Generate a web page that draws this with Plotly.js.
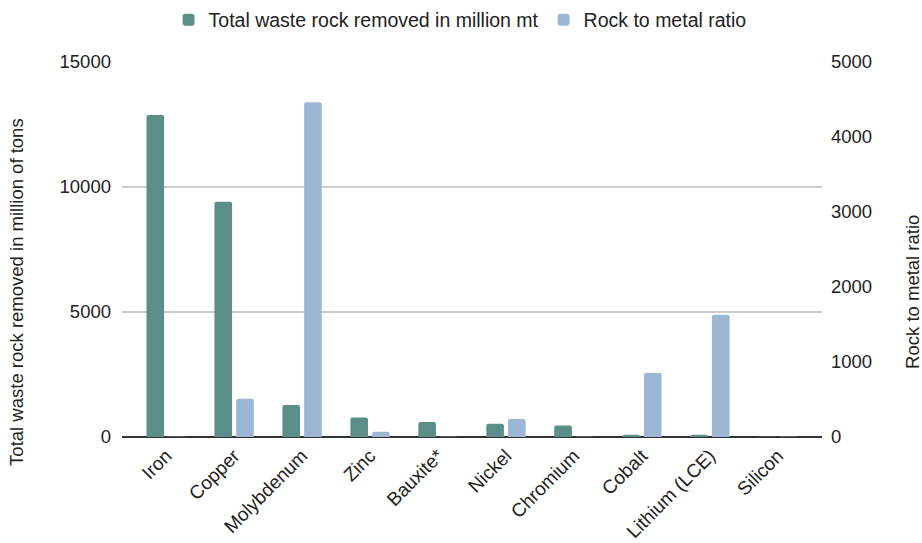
<!DOCTYPE html>
<html>
<head>
<meta charset="utf-8">
<script src="https://cdn.plot.ly/plotly-3.0.1.min.js"></script>
<style>html,body{margin:0;padding:0;background:#fff;}#chart{width:922px;height:543px;}</style>
</head>
<body>
<div id="chart"></div>
<script>
const categories = ["Iron", "Copper", "Molybdenum", "Zinc", "Bauxite*", "Nickel", "Chromium", "Cobalt", "Lithium (LCE)", "Silicon"];
const wasteRock = [12880, 9410, 1280, 785, 600, 530, 465, 90, 90, 15];
const rockToMetal = [4, 510, 4465, 70, 4, 240, 4, 855, 1630, 5];
const yLeftTicks = [0, 5000, 10000, 15000];
const yRightTicks = [0, 1000, 2000, 3000, 4000, 5000];
const leftTitle = "Total waste rock removed in million of tons";
const rightTitle = "Rock to metal ratio";

const FAM = "Liberation Sans, Arial, sans-serif";
const TXT = "#222";
const f = (s) => ({family: FAM, size: s, color: TXT});

const traces = [
  {type: "bar", name: "Total waste rock removed in million mt", x: categories, y: wasteRock,
   marker: {color: "#5a8e86", cornerradius: 2}, offsetgroup: "a", yaxis: "y"},
  {type: "bar", name: "Rock to metal ratio", x: categories, y: rockToMetal,
   marker: {color: "#9db6d3", cornerradius: 2}, offsetgroup: "b", yaxis: "y2"}
];

const layout = {
  width: 922, height: 543,
  margin: {l: 122, r: 100, t: 62, b: 106, autoexpand: false},
  paper_bgcolor: "#fff", plot_bgcolor: "#fff",
  font: f(19),
  barmode: "group", bargap: 0.36, bargroupgap: 0.19,
  showlegend: true,
  legend: {orientation: "h", xref: "container", yref: "container", x: 0.499, xanchor: "center",
           y: 1 - 20/543, yanchor: "middle", font: f(19.5), itemwidth: 30, tracegroupgap: 0},
  xaxis: {type: "category", range: [-0.65, 9.65], tickangle: -45, ticks: "", showgrid: false,
          zeroline: false, showline: false, tickfont: f(19), ticklabelstandoff: 3},
  yaxis: {range: [0, 15000], tickvals: yLeftTicks, ticktext: yLeftTicks.map(String),
          showgrid: true, gridcolor: "#cccccc", gridwidth: 1.2, zeroline: true, zerolinecolor: "#333", zerolinewidth: 1.5,
          ticks: "", ticklabelstandoff: 10, tickfont: f(18.5)},
  yaxis2: {range: [0, 5000], tickvals: yRightTicks, ticktext: yRightTicks.map(String),
           overlaying: "y", side: "right", showgrid: false, zeroline: false,
           ticks: "", ticklabelstandoff: 8, tickfont: f(18.5)},
  annotations: [
    {text: leftTitle, xref: "paper", yref: "paper", x: -0.15, y: 0.387, xanchor: "center", yanchor: "middle",
     textangle: -90, showarrow: false, font: f(18.5)},
    {text: rightTitle, xref: "paper", yref: "paper", x: 1.13, y: 0.387, xanchor: "center", yanchor: "middle",
     textangle: -90, showarrow: false, font: f(18.5)}
  ]
};

Plotly.newPlot("chart", traces, layout, {displayModeBar: false, staticPlot: true});
</script>
</body>
</html>
